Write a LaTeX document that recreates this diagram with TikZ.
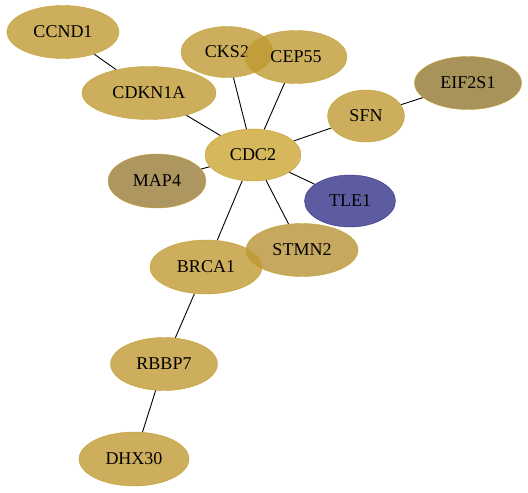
\documentclass[tikz,border=0pt]{standalone}
\usepackage{fontspec}
\setmainfont{Liberation Serif}
\usetikzlibrary{shapes.geometric}

\definecolor{goldfill}{RGB}{191,154,51}
\definecolor{hubfill}{RGB}{204,165,51}
\definecolor{olivefill}{RGB}{153,124,56}
\definecolor{darkolive}{RGB}{146,121,49}
\definecolor{stmnfill}{RGB}{184,148,54}
\definecolor{bluefill}{RGB}{54,51,136}
\definecolor{goldline}{RGB}{196,160,50}
\definecolor{blueline}{RGB}{50,45,130}

\pgfdeclarelayer{background}
\pgfsetlayers{background,main}

\begin{document}
\begin{tikzpicture}[x=1pt, y=-1pt,
        gene/.style = {ellipse,
            draw = goldline,
            fill = goldfill,
            fill opacity = 0.8,
            text opacity = 1,
            inner sep = 0pt,
            minimum height = 53pt,
            font = \fontsize{18}{20}\selectfont,
            },
        link/.style = {black, line width = 0.9pt}]

    \useasboundingbox (0,0) rectangle (528,493);

    % Genes
    \node[gene, minimum width = 112pt] (CCND1) at (63,32) {CCND1};
    \node[gene, minimum width = 134pt] (CDKN1A) at (149,93) {CDKN1A};
    \node[gene, minimum width = 92pt, minimum height = 51pt] (CKS2) at (227,52) {CKS2};
    \node[gene, minimum width = 102pt] (CEP55) at (296,57) {CEP55};
    \node[gene, fill = darkolive, minimum width = 107pt] (EIF2S1) at (468,83) {EIF2S1};
    \node[gene, minimum width = 77pt, minimum height = 52pt] (SFN) at (366,116) {SFN};
    \node[gene, fill = hubfill, minimum width = 96pt, minimum height = 52pt] (CDC2) at (253,155) {CDC2};
    \node[gene, fill = olivefill, minimum width = 98pt, minimum height = 54pt] (MAP4) at (157,181) {MAP4};
    \node[gene, draw = blueline, fill = bluefill, minimum width = 91pt, minimum height = 52pt] (TLE1) at (350,201) {TLE1};
    \node[gene, fill = stmnfill, minimum width = 112pt] (STMN2) at (302,250) {STMN2};
    \node[gene, minimum width = 112pt, minimum height = 54pt] (BRCA1) at (206,267) {BRCA1};
    \node[gene, minimum width = 107pt] (RBBP7) at (164,364) {RBBP7};
    \node[gene, minimum width = 110pt, minimum height = 54pt] (DHX30) at (134,459) {DHX30};

    % Interactions
    \begin{pgfonlayer}{background}
        \draw[link] (CCND1) -- (CDKN1A);
        \draw[link] (CDKN1A) -- (CDC2);
        \draw[link] (CKS2) -- (CDC2);
        \draw[link] (CEP55) -- (CDC2);
        \draw[link] (SFN) -- (CDC2);
        \draw[link] (SFN) -- (EIF2S1);
        \draw[link] (MAP4) -- (CDC2);
        \draw[link] (TLE1) -- (CDC2);
        \draw[link] (STMN2) -- (CDC2);
        \draw[link] (BRCA1) -- (CDC2);
        \draw[link] (BRCA1) -- (RBBP7);
        \draw[link] (RBBP7) -- (DHX30);
    \end{pgfonlayer}

\end{tikzpicture}
\end{document}
